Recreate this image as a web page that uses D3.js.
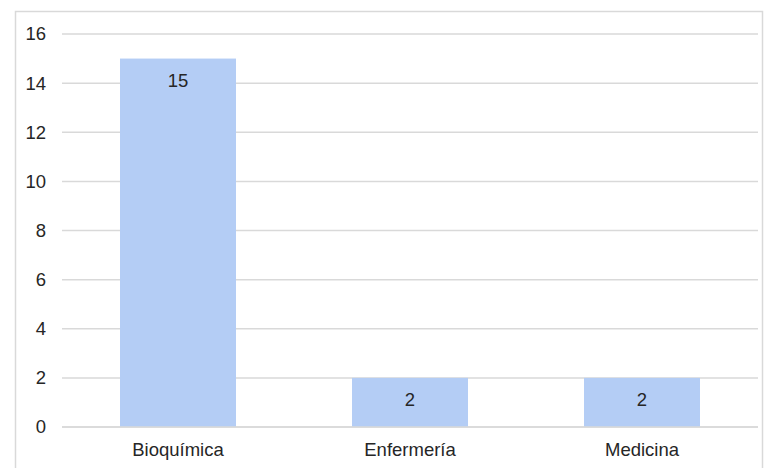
<!DOCTYPE html>
<html>
<head>
<meta charset="utf-8">
<script src="https://cdn.jsdelivr.net/npm/d3@7"></script>
<style>
  body { margin: 0; background: #fff; }
  text { font-family: "Liberation Sans", Arial, sans-serif; }
</style>
</head>
<body>
<svg id="chart" width="769" height="468"></svg>
<script>
var categories = ["Bioquímica", "Enfermería", "Medicina"];
var values = [15, 2, 2];
var yTicks = [0, 2, 4, 6, 8, 10, 12, 14, 16];

var svg = d3.select("#chart");
var plotLeft = 62, plotRight = 758, plotTop = 34, plotBottom = 427;
var fontSize = 18.5;

// chart frame
svg.append("rect")
  .attr("x", 15.5).attr("y", 11.5)
  .attr("width", 747).attr("height", 470)
  .attr("fill", "#fff").attr("stroke", "#d9d9d9").attr("stroke-width", 1.5);

var x = d3.scaleBand().domain(categories).range([plotLeft, plotRight]).paddingInner(0.5).paddingOuter(0.25);
var y = d3.scaleLinear().domain([0, 16]).range([plotBottom, plotTop]);

// gridlines
svg.append("g").selectAll("line").data(yTicks).join("line")
  .attr("x1", plotLeft).attr("x2", plotRight)
  .attr("y1", function(d) { return y(d); }).attr("y2", function(d) { return y(d); })
  .attr("stroke", "#d9d9d9").attr("stroke-width", 1.5);

// y axis labels
var yAxis = svg.append("g").attr("transform", "translate(" + (plotLeft - 12) + ",0)")
  .call(d3.axisLeft(y).tickValues(yTicks).tickSize(0).tickPadding(4));
yAxis.select(".domain").remove();
yAxis.selectAll("text").attr("font-size", fontSize).attr("fill", "#262626")
  .attr("font-family", "Liberation Sans, Arial, sans-serif");

// bars
svg.append("g").selectAll("rect").data(values).join("rect")
  .attr("x", function(d, i) { return x(categories[i]); })
  .attr("width", x.bandwidth())
  .attr("y", function(d) { return y(d); })
  .attr("height", function(d) { return y(0) - y(d); })
  .attr("fill", "#b4cdf5");

// baseline over bars
svg.append("line").attr("x1", plotLeft).attr("x2", plotRight)
  .attr("y1", y(0)).attr("y2", y(0)).attr("stroke", "#d9d9d9").attr("stroke-width", 1.5);

// value labels
svg.append("g").selectAll("text").data(values).join("text")
  .attr("x", function(d, i) { return x(categories[i]) + x.bandwidth() / 2; })
  .attr("y", function(d) { return y(d) + 28; })
  .attr("text-anchor", "middle").attr("font-size", fontSize).attr("fill", "#262626")
  .text(function(d) { return d; });

// x axis labels
var xAxis = svg.append("g").attr("transform", "translate(0," + plotBottom + ")")
  .call(d3.axisBottom(x).tickSize(0).tickPadding(16));
xAxis.select(".domain").remove();
xAxis.selectAll("text").attr("font-size", fontSize).attr("fill", "#262626")
  .attr("font-family", "Liberation Sans, Arial, sans-serif");
</script>
</body>
</html>
